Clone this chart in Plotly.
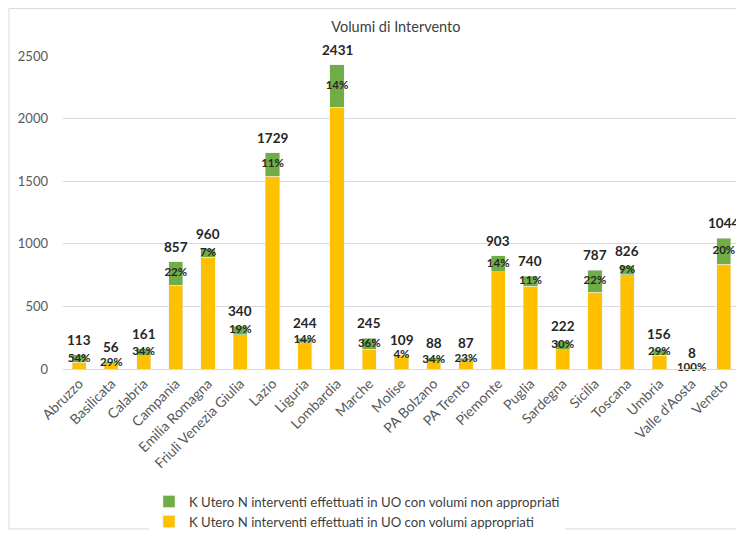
import plotly.graph_objects as go

regioni = ["Abruzzo", "Basilicata", "Calabria", "Campania", "Emilia Romagna",
           "Friuli Venezia Giulia", "Lazio", "Liguria", "Lombardia", "Marche",
           "Molise", "PA Bolzano", "PA Trento", "Piemonte", "Puglia", "Sardegna",
           "Sicilia", "Toscana", "Umbria", "Valle d'Aosta", "Veneto"]
totali = [113, 56, 161, 857, 960, 340, 1729, 244, 2431, 245, 109, 88, 87,
          903, 740, 222, 787, 826, 156, 8, 1044]
non_appropriati = [61, 16, 55, 189, 67, 65, 190, 34, 340, 88, 4, 30, 20,
                   126, 81, 67, 173, 74, 45, 8, 209]
appropriati = [52, 40, 106, 668, 893, 275, 1539, 210, 2091, 157, 105, 58, 67,
               777, 659, 155, 614, 752, 111, 0, 835]
percentuali = ["54%", "29%", "34%", "22%", "7%", "19%", "11%", "14%", "14%",
               "36%", "4%", "34%", "23%", "14%", "11%", "30%", "22%", "9%",
               "29%", "100%", "20%"]

FONT = "Lato, 'Open Sans', sans-serif"
GREEN = "#70ad47"
YELLOW = "#ffc000"

fig = go.Figure()
fig.add_trace(go.Bar(
    name="K Utero N interventi effettuati in UO con volumi appropriati",
    x=regioni, y=appropriati, marker_color=YELLOW,
    legendgroup="b", legendrank=2,
))
fig.add_trace(go.Bar(
    name="K Utero N interventi effettuati in UO con volumi non appropriati",
    x=regioni, y=non_appropriati, marker_color=GREEN,
    legendgroup="a", legendrank=1,
))

# percentuali al centro del segmento verde
mid = [a + n / 2 for a, n in zip(appropriati, non_appropriati)]
fig.add_trace(go.Scatter(
    x=regioni, y=mid, mode="text", text=percentuali,
    textposition="middle center", showlegend=False, hoverinfo="skip",
    cliponaxis=False,
    textfont=dict(family=FONT, size=11.5, color="#262626", weight="bold"),
))

# totali sopra le barre
for r, t in zip(regioni, totali):
    fig.add_annotation(x=r, y=t, text=f"<b>{t}</b>", showarrow=False,
                       yanchor="bottom", yshift=5,
                       font=dict(family=FONT, size=13.5, color="#262626"))

# the page body adds an 8px margin all round, so the figure is 736x522
fig.update_layout(
    width=736, height=522,
    barmode="stack", bargap=0.56,
    plot_bgcolor="white", paper_bgcolor="white",
    margin=dict(l=55, r=4, t=48, b=161, autoexpand=False),
    font=dict(family=FONT, color="#595959", size=12),
    title=dict(text="Volumi di Intervento", x=0.527, xanchor="center",
               y=1 - 19 / 522, yanchor="middle",
               font=dict(family=FONT, size=14.5, color="#404040")),
    legend=dict(orientation="v", traceorder="grouped",
                x=0.127, xanchor="left", y=-0.375, yanchor="top",
                font=dict(family=FONT, size=13.2, color="#404040"),
                itemwidth=30, tracegroupgap=0),
    shapes=[dict(type="rect", xref="paper", yref="paper",
                 x0=-0.0798, x1=1.0044, y0=-0.511, y1=1.152,
                 line=dict(color="#d9d9d9", width=1))],
)
fig.update_yaxes(range=[0, 2500], dtick=500, showgrid=True,
                 gridcolor="#d9d9d9", zeroline=False, showline=False,
                 tickfont=dict(size=13, color="#595959"), ticklen=0,
                 ticks="", ticklabelstandoff=14)
fig.update_xaxes(range=[-0.5, len(regioni) - 0.5], showline=True,
                 linecolor="#d9d9d9", tickangle=-45,
                 tickfont=dict(size=14, color="#595959"))

fig.write_html("out.html")
